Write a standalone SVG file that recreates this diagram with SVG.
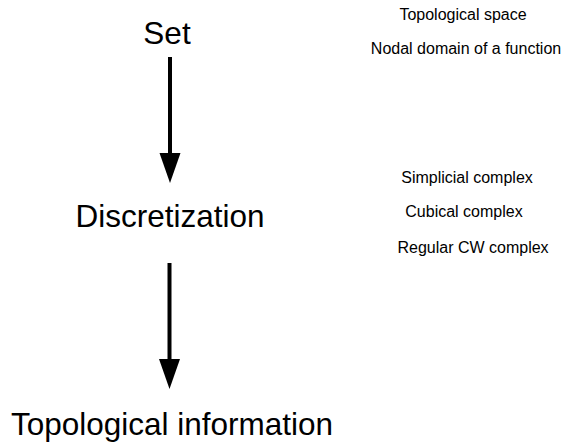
<svg xmlns="http://www.w3.org/2000/svg" width="565" height="442" viewBox="0 0 565 442">
  <style>
    .big { font-family: "Liberation Sans", Arial, sans-serif; font-size: 31.5px; fill: #000; text-anchor: middle; }
    .small { font-family: "Liberation Sans", Arial, sans-serif; font-size: 16px; fill: #000; text-anchor: middle; }
    .edge { stroke: #000; stroke-width: 4; fill: none; }
  </style>
  <defs>
    <marker id="head" markerUnits="userSpaceOnUse" markerWidth="31" markerHeight="22" refX="0" refY="10.5" orient="auto">
      <path d="M0,0 L30,10.5 L0,21 Z" fill="#000"/>
    </marker>
  </defs>

  <rect width="565" height="442" fill="#fff"/>

  <g id="set">
    <text class="big" x="167" y="44">Set</text>
  </g>
  <g id="discretization">
    <text class="big" x="170" y="227">Discretization</text>
  </g>
  <g id="topological-information">
    <text class="big" x="172" y="434.5">Topological information</text>
  </g>

  <g id="set-examples">
    <text class="small" x="463" y="20">Topological space</text>
    <text class="small" x="466" y="54">Nodal domain of a function</text>
  </g>
  <g id="discretization-examples">
    <text class="small" x="467" y="183">Simplicial complex</text>
    <text class="small" x="464" y="217">Cubical complex</text>
    <text class="small" x="473" y="253">Regular CW complex</text>
  </g>

  <g id="connectors">
    <line class="edge" x1="170" y1="57" x2="170" y2="153" marker-end="url(#head)"/>
    <line class="edge" x1="169.5" y1="263" x2="169.5" y2="359" marker-end="url(#head)"/>
  </g>
</svg>
